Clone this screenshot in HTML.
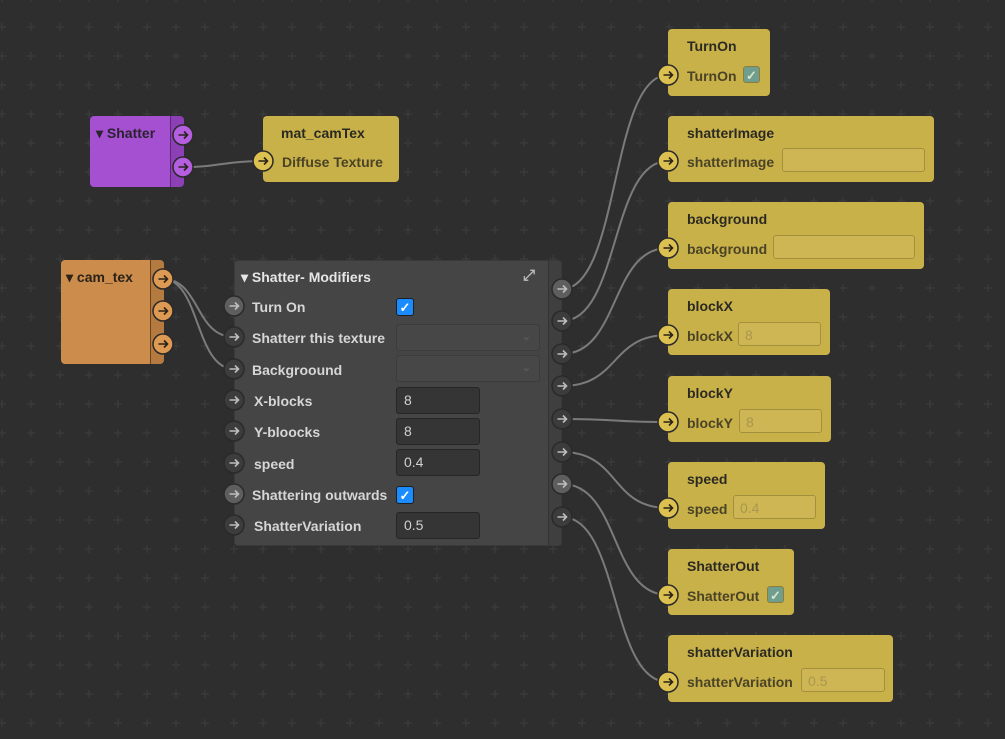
<!DOCTYPE html>
<html><head><meta charset="utf-8"><style>
body{margin:0;width:1005px;height:739px;overflow:hidden;background:#2e2e2e;font-family:"Liberation Sans",sans-serif;font-weight:bold;font-size:14px}
.a{position:absolute}
.y{position:absolute;background:#c9b14a;border-radius:4px;color:#2b2a22}
.y .t{position:absolute;left:19px;top:9px;font-size:14px}
.y .l{position:absolute;left:19px;color:#4a4326;font-size:14px}
.yf{position:absolute;border:1px solid #a2903f;background:#cdb653;border-radius:3px;height:24px;color:#a9974f;font-weight:normal;font-size:14px;line-height:24px;padding-left:6px;box-sizing:border-box}
.cb{position:absolute;width:17px;height:17px;background:#6f9e8e;border:1px solid #8c7d3a;border-radius:3px;color:#d8e6d0;font-size:13px;line-height:17px;text-align:center;box-sizing:border-box}
.m{position:absolute;color:#d6d6d6;font-size:14px}
.f{position:absolute;left:161px;width:84px;height:27px;background:#353535;border:1px solid #262626;border-radius:3px;box-sizing:border-box;color:#d0d0d0;font-weight:normal;padding-left:7px;line-height:25px}
.dd{position:absolute;left:161px;width:144px;height:27px;background:#474747;border:1px solid #3c3c3c;border-radius:3px;box-sizing:border-box;color:#5a5a5a;text-align:right;padding-right:8px;line-height:25px;font-size:11px}
.bc{position:absolute;left:161px;width:18px;height:18px;background:#1a8cff;border:1px solid #1e1e1e;border-radius:3px;color:#fff;font-size:13px;line-height:17px;text-align:center;box-sizing:border-box}
</style></head><body>
<svg class="a" style="left:0;top:0" width="1005" height="739">
<defs><pattern id="g" x="2" y="-2" width="29" height="29" patternUnits="userSpaceOnUse"><path d="M29,25 V33 M25,29 H33 M0,25 V33 M-4,29 H4 M29,-4 V4 M25,0 H33 M0,-4 V4 M-4,0 H4" stroke="#3d3d3d" stroke-width="1"/></pattern></defs>
<rect width="1005" height="739" fill="url(#g)"/>
<g fill="none" stroke="#7b7b7b" stroke-width="2">
<path d="M183,167 C220,167 225,161 263,161"/>
<path d="M163,279 C200,279 195,337 234,337"/>
<path d="M163,279 C200,279 195,369 234,369"/>
<path d="M562,289 C620,289 610,75 668,75"/>
<path d="M562,321 C620,321 610,161 668,161"/>
<path d="M562,354 C620,354 610,248 668,248"/>
<path d="M562,386 C620,386 610,335 668,335"/>
<path d="M562,419 C620,419 610,422 668,422"/>
<path d="M562,452 C620,452 610,508 668,508"/>
<path d="M562,484 C620,484 610,595 668,595"/>
<path d="M562,517 C620,517 610,682 668,682"/>
</g></svg>

<div class="a" style="left:90px;top:116px;width:93px;height:71px;background:#a550d0;border-radius:4px"></div>
<div class="a" style="left:170px;top:116px;width:13px;height:71px;background:#8d3fb5;border-left:1px solid #5a2a70;border-radius:0 4px 4px 0"></div>
<div class="a" style="left:96px;top:125px;color:#2a2330">▾ Shatter</div>

<div class="a" style="left:61px;top:260px;width:102px;height:104px;background:#cc8c4c;border-radius:4px"></div>
<div class="a" style="left:150px;top:260px;width:13px;height:104px;background:#b57a40;border-left:1px solid #6a4422;border-radius:0 4px 4px 0"></div>
<div class="a" style="left:66px;top:269px;color:#2b2218">▾ cam_tex</div>

<div class="y" style="left:263px;top:116px;width:136px;height:66px"><div class="t" style="left:18px">mat_camTex</div><div class="l" style="top:38px">Diffuse Texture</div></div>

<div class="a" style="left:234px;top:260px;width:328px;height:286px;background:#454545;border-radius:4px;border:1px solid #3a3a3a;box-sizing:border-box">
<div class="a" style="right:0;top:0;width:12px;height:284px;background:#3f3f3f;border-left:1px solid #333"></div>
<div class="m" style="left:6px;top:8px;color:#e6e6e6">▾ Shatter- Modifiers</div>
<div class="m" style="left:288px;top:6px;color:#bbb;font-size:15px">⤢</div>
<div class="m" style="left:17px;top:38px">Turn On</div><div class="bc" style="top:37px">✓</div>
<div class="m" style="left:17px;top:69px">Shatterr this texture</div><div class="dd" style="top:63px">⌄</div>
<div class="m" style="left:17px;top:101px">Backgroound</div><div class="dd" style="top:94px">⌄</div>
<div class="m" style="left:19px;top:132px">X-blocks</div><div class="f" style="top:126px">8</div>
<div class="m" style="left:19px;top:163px">Y-bloocks</div><div class="f" style="top:157px">8</div>
<div class="m" style="left:19px;top:195px">speed</div><div class="f" style="top:188px">0.4</div>
<div class="m" style="left:17px;top:226px">Shattering outwards</div><div class="bc" style="top:225px">✓</div>
<div class="m" style="left:19px;top:257px">ShatterVariation</div><div class="f" style="top:251px">0.5</div>
</div>

<div class="y" style="left:668px;top:29px;width:102px;height:67px"><div class="t">TurnOn</div><div class="l" style="top:39px">TurnOn</div><div class="cb" style="left:75px;top:37px">✓</div></div>
<div class="y" style="left:668px;top:116px;width:266px;height:66px"><div class="t">shatterImage</div><div class="l" style="top:38px">shatterImage</div><div class="yf" style="left:114px;top:32px;width:143px"></div></div>
<div class="y" style="left:668px;top:202px;width:256px;height:67px"><div class="t">background</div><div class="l" style="top:39px">background</div><div class="yf" style="left:105px;top:33px;width:142px"></div></div>
<div class="y" style="left:668px;top:289px;width:162px;height:66px"><div class="t">blockX</div><div class="l" style="top:39px">blockX</div><div class="yf" style="left:70px;top:33px;width:83px">8</div></div>
<div class="y" style="left:668px;top:376px;width:163px;height:66px"><div class="t">blockY</div><div class="l" style="top:39px">blockY</div><div class="yf" style="left:71px;top:33px;width:83px">8</div></div>
<div class="y" style="left:668px;top:462px;width:157px;height:67px"><div class="t">speed</div><div class="l" style="top:39px">speed</div><div class="yf" style="left:65px;top:33px;width:83px">0.4</div></div>
<div class="y" style="left:668px;top:549px;width:126px;height:66px"><div class="t">ShatterOut</div><div class="l" style="top:39px">ShatterOut</div><div class="cb" style="left:99px;top:37px">✓</div></div>
<div class="y" style="left:668px;top:635px;width:225px;height:67px"><div class="t">shatterVariation</div><div class="l" style="top:39px">shatterVariation</div><div class="yf" style="left:133px;top:33px;width:84px">0.5</div></div>

<svg class="a" style="left:0;top:0" width="1005" height="739">
<defs>
<g id="ar"><path d="M-4.5,0 H4.5 M1,-3.5 L4.5,0 L1,3.5" fill="none" stroke-width="1.6"/></g>
</defs>
<g stroke="#2a2a2a" stroke-width="1.5">
<g fill="#b55fe0"><circle cx="183" cy="135" r="10"/><circle cx="183" cy="167" r="10"/></g>
<g fill="#dc9a52"><circle cx="163" cy="279" r="10"/><circle cx="163" cy="311" r="10"/><circle cx="163" cy="344" r="10"/></g>
<g fill="#dcc150"><circle cx="263" cy="161" r="10"/><circle cx="668" cy="75" r="10"/><circle cx="668" cy="161" r="10"/><circle cx="668" cy="248" r="10"/><circle cx="668" cy="335" r="10"/><circle cx="668" cy="422" r="10"/><circle cx="668" cy="508" r="10"/><circle cx="668" cy="595" r="10"/><circle cx="668" cy="682" r="10"/></g>
<g fill="#3c3c3c" stroke="#2a2a2a"><circle cx="234" cy="337" r="10"/><circle cx="234" cy="369" r="10"/><circle cx="234" cy="400" r="10"/><circle cx="234" cy="431" r="10"/><circle cx="234" cy="463" r="10"/><circle cx="234" cy="525" r="10"/>
<circle cx="562" cy="321" r="10"/><circle cx="562" cy="354" r="10"/><circle cx="562" cy="386" r="10"/><circle cx="562" cy="419" r="10"/><circle cx="562" cy="452" r="10"/><circle cx="562" cy="517" r="10"/></g>
<g fill="#5e5e5e"><circle cx="234" cy="306" r="10"/><circle cx="234" cy="494" r="10"/><circle cx="562" cy="289" r="10"/><circle cx="562" cy="484" r="10"/></g>
</g>
<g stroke="#2a2218">
<use href="#ar" x="183" y="135"/><use href="#ar" x="183" y="167"/>
<use href="#ar" x="163" y="279"/><use href="#ar" x="163" y="311"/><use href="#ar" x="163" y="344"/>
<use href="#ar" x="263" y="161"/><use href="#ar" x="668" y="75"/><use href="#ar" x="668" y="161"/><use href="#ar" x="668" y="248"/><use href="#ar" x="668" y="335"/><use href="#ar" x="668" y="422"/><use href="#ar" x="668" y="508"/><use href="#ar" x="668" y="595"/><use href="#ar" x="668" y="682"/>
</g>
<g stroke="#bdbdbd">
<use href="#ar" x="234" y="306"/><use href="#ar" x="234" y="337"/><use href="#ar" x="234" y="369"/><use href="#ar" x="234" y="400"/><use href="#ar" x="234" y="431"/><use href="#ar" x="234" y="463"/><use href="#ar" x="234" y="494"/><use href="#ar" x="234" y="525"/>
<use href="#ar" x="562" y="289"/><use href="#ar" x="562" y="321"/><use href="#ar" x="562" y="354"/><use href="#ar" x="562" y="386"/><use href="#ar" x="562" y="419"/><use href="#ar" x="562" y="452"/><use href="#ar" x="562" y="484"/><use href="#ar" x="562" y="517"/>
</g>
</svg>
</body></html>
